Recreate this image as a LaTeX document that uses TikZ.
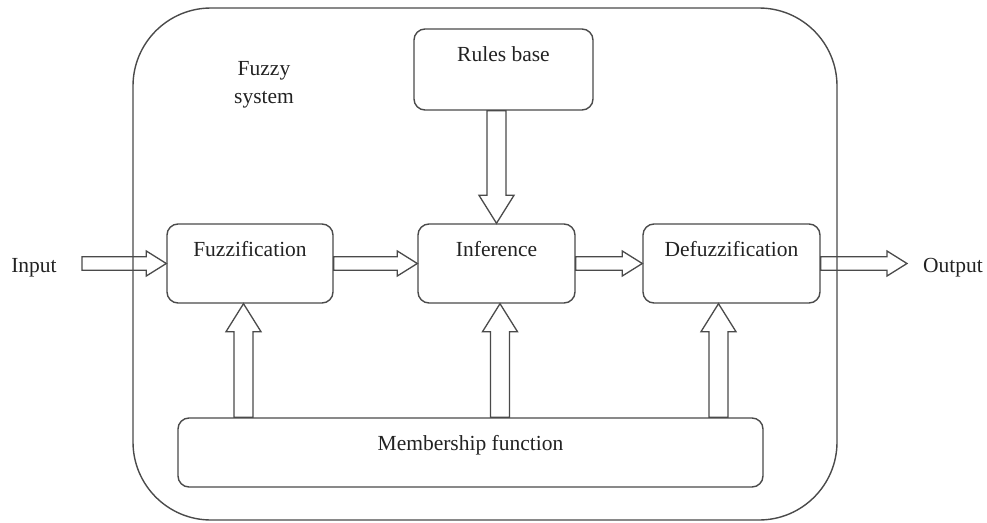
\documentclass[tikz,border=0pt]{standalone}
\usepackage{fontspec}
\setmainfont{Liberation Serif}
\usetikzlibrary{calc}

\definecolor{linec}{HTML}{4A4A4A}
\definecolor{textc}{HTML}{222222}

\tikzset{
  box/.style={draw=linec, line width=1.4pt, rounded corners=11pt, inner sep=0pt},
  lbl/.style={text=textc, font=\fontsize{21.5}{28}\selectfont, inner sep=0pt, anchor=base},
  % hollow block arrow: #1 shaft half-width, #2 head half-width, #3 head length
  blk/.style n args={3}{draw=linec, line width=1.3pt, line join=miter,
    to path={
      let \p1=(\tikztostart), \p2=(\tikztotarget),
          \n1={atan2(\y2-\y1,\x2-\x1)}, \n2={veclen(\x2-\x1,\y2-\y1)}
      in
      {[shift={(\p1)}, rotate=\n1]
        (0,#1) -- ({\n2-#3},#1) -- ({\n2-#3},#2) -- (\n2,0)
        -- ({\n2-#3},-#2) -- ({\n2-#3},-#1) -- (0,-#1) -- cycle}
    }},
  harrow/.style={blk={6.75}{12.5}{20}},
  varrow/.style={blk={9.5}{17.5}{28}},
}

\begin{document}
\begin{tikzpicture}[x=1pt, y=-1pt]
  \useasboundingbox (0,0) rectangle (987,522);

  % enclosing fuzzy system
  \node[box, rounded corners=78pt, minimum width=704pt, minimum height=512pt] (sys) at (485,264) {};
  \node[lbl] (sysa) at (264,75) {Fuzzy};
  \node[lbl] (sysb) at (264,103) {system};

  % blocks
  \node[box, minimum width=179pt, minimum height=81pt] (rules) at (503.5,69.5) {};
  \node[box, minimum width=166pt, minimum height=79pt] (fuzz) at (250,263.5) {};
  \node[box, minimum width=157pt, minimum height=79pt] (inf) at (496.5,263.5) {};
  \node[box, minimum width=177pt, minimum height=79pt] (defuzz) at (731.5,263.5) {};
  \node[box, minimum width=585pt, minimum height=69pt] (mem) at (470.5,452.5) {};

  % block captions
  \node[lbl] (rulest) at ([yshift=-33pt]rules.north) {Rules base};
  \node[lbl] (fuzzt) at ([yshift=-33pt]fuzz.north) {Fuzzification};
  \node[lbl] (inft) at ([yshift=-33pt]inf.north) {Inference};
  \node[lbl] (defuzzt) at ([yshift=-33pt]defuzz.north) {Defuzzification};
  \node[lbl] (memt) at ([yshift=-33pt]mem.north) {Membership function};

  % external signals
  \node[lbl] (input) at (34,272) {Input};
  \node[lbl] (output) at (953,272) {Output};
  \coordinate (in0) at (82,263.5);
  \coordinate (out0) at (907,263.5);

  % signal flow
  \draw[harrow] (in0) to (fuzz.west);
  \draw[harrow] (fuzz.east) to (inf.west);
  \draw[harrow] (inf.east) to (defuzz.west);
  \draw[harrow] (defuzz.east) to (out0);

  % rules feed the inference engine
  \draw[varrow] (inf.north |- rules.south) to (inf.north);

  % membership functions feed the three stages
  \coordinate (fzin) at ([xshift=-6.5pt]fuzz.south);
  \coordinate (ifin) at ([xshift=3.5pt]inf.south);
  \coordinate (dfin) at ([xshift=-13pt]defuzz.south);
  \draw[varrow] (fzin |- mem.north) to (fzin);
  \draw[varrow] (ifin |- mem.north) to (ifin);
  \draw[varrow] (dfin |- mem.north) to (dfin);
\end{tikzpicture}
\end{document}
